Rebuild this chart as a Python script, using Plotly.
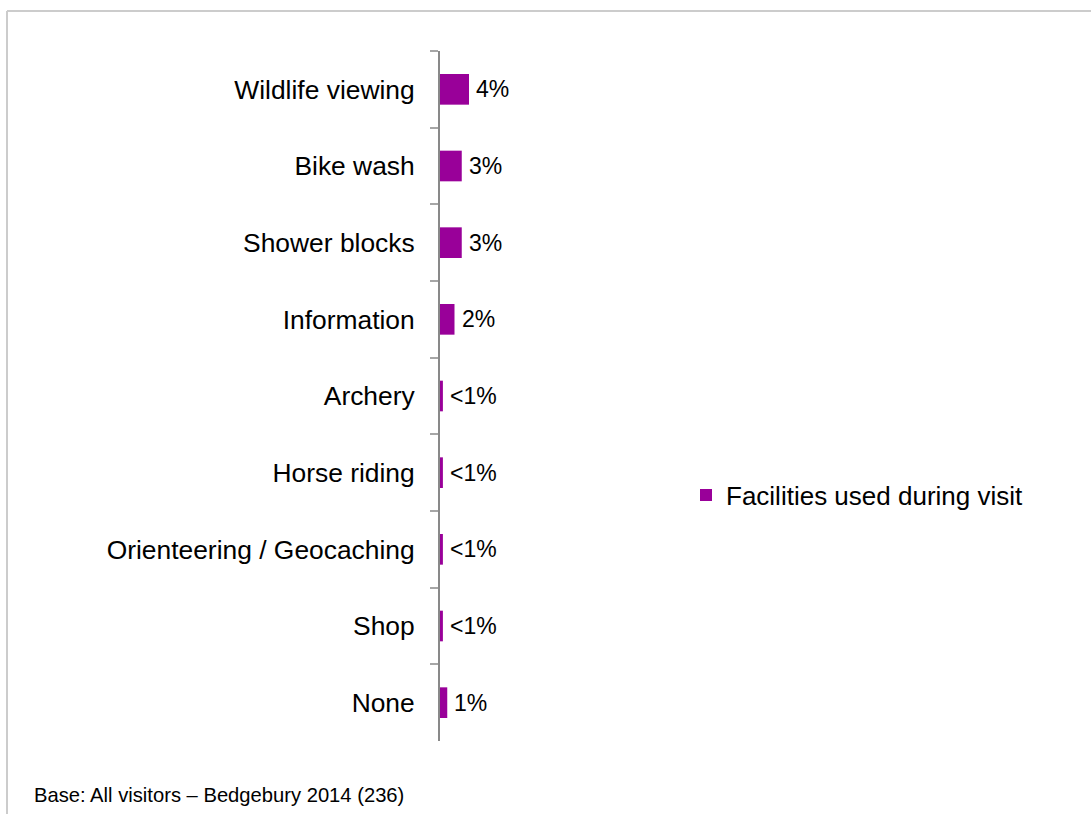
import plotly.graph_objects as go

# Share of visitors using each facility (%)
facilities = [
    "Wildlife viewing",
    "Bike wash",
    "Shower blocks",
    "Information",
    "Archery",
    "Horse riding",
    "Orienteering / Geocaching",
    "Shop",
    "None",
]
share_pct = [4, 3, 3, 2, 0.4, 0.4, 0.4, 0.4, 1]
series_name = "Facilities used during visit"
footnote = "Base: All visitors \u2013 Bedgebury 2014 (236)"

BAR = "#990099"
FONT = "Liberation Sans, Arial, sans-serif"

W, H = 1091, 814
ML, MR, MT, MB = 440, 401, 51, 73
PW = W - ML - MR
PH = H - MT - MB


def px_x(px):
    return (px - ML) / PW


def px_y(py):
    return (H - MB - py) / PH


def pct_label(v):
    return "<1%" if v < 1 else f"{v:.0f}%"


fig = go.Figure()
fig.add_trace(go.Bar(
    x=share_pct,
    y=facilities,
    orientation="h",
    width=0.4,
    marker=dict(color=BAR, line=dict(width=0)),
    name=series_name,
    showlegend=True,
    hoverinfo="skip",
))

annotations = []
for f, v in zip(facilities, share_pct):
    annotations.append(dict(
        x=v, y=f, xref="x", yref="y",
        text=pct_label(v), showarrow=False,
        xanchor="left", yanchor="middle", xshift=5,
        font=dict(family=FONT, size=23, color="#000000"),
    ))

annotations.append(dict(
    x=px_x(32), y=px_y(795), xref="paper", yref="paper",
    text=footnote, showarrow=False,
    xanchor="left", yanchor="middle",
    font=dict(family=FONT, size=20.2, color="#000000"),
))

# Chart frame: top and left edges
frame = dict(color="#cccccc", width=2)
shapes = [
    dict(type="line", xref="paper", yref="paper",
         x0=px_x(7), x1=px_x(1100), y0=px_y(11), y1=px_y(11), line=frame),
    dict(type="line", xref="paper", yref="paper",
         x0=px_x(7), x1=px_x(7), y0=px_y(11), y1=px_y(830), line=frame),
]

fig.update_layout(
    width=W, height=H,
    margin=dict(l=ML, r=MR, t=MT, b=MB, pad=0),
    paper_bgcolor="white", plot_bgcolor="white",
    font=dict(family=FONT, color="#000000"),
    bargap=0.6,
    xaxis=dict(visible=False, range=[0, PW / 7.25], fixedrange=True),
    yaxis=dict(
        type="category",
        categoryorder="array", categoryarray=facilities,
        range=[len(facilities) - 0.5, -0.5],
        showline=True, linecolor="#898989", linewidth=2,
        ticks="outside", tickson="boundaries", ticklen=8,
        tickcolor="#a6a6a6", tickwidth=2,
        ticklabelstandoff=18,
        tickfont=dict(family=FONT, size=26.4, color="#000000"),
        showgrid=False, zeroline=False, fixedrange=True,
    ),
    legend=dict(
        x=px_x(686), y=px_y(495), xanchor="left", yanchor="middle",
        font=dict(family=FONT, size=26, color="#000000"),
        bgcolor="rgba(0,0,0,0)", borderwidth=0,
    ),
    annotations=annotations,
    shapes=shapes,
)

fig.write_html("out.html")
